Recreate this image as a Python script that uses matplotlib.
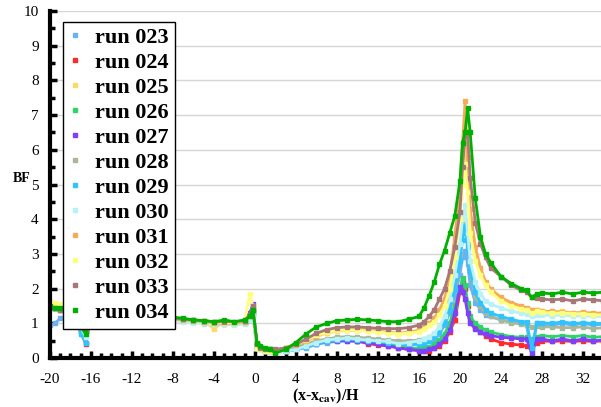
import matplotlib
matplotlib.use('Agg')
import matplotlib.pyplot as plt
from matplotlib.ticker import MultipleLocator
from matplotlib.lines import Line2D

plt.rcParams['font.family'] = ['Liberation Serif', 'DejaVu Serif']
plt.rcParams['mathtext.fontset'] = 'stix'
plt.rcParams['axes.unicode_minus'] = False

# shared x positions (x-x_cav)/H
x = [-20, -19.5, -19, -18.5, -18, -17.5, -17, -16.5, -16,
     -15, -14, -13, -12, -11, -10, -9, -8, -7, -6, -5, -4, -3, -2, -1,
     -0.5, -0.2, 0.2, 0.5, 1, 1.5, 2,
     3, 4, 5, 6, 7, 8, 9, 10, 11, 12, 13, 14, 15, 16,
     16.5, 17, 17.5, 18, 18.5, 19, 19.5, 20, 20.25, 20.5, 20.75, 21, 21.5, 22, 22.5, 23,
     24, 25, 26, 26.5, 27, 27.5, 28, 29, 30, 31, 32, 33, 34]

runs = ['run 023', 'run 024', 'run 025', 'run 026', 'run 027', 'run 028',
        'run 029', 'run 030', 'run 031', 'run 032', 'run 033', 'run 034']
colors = ['#6fb0f0', '#ff2a2a', '#ffd966', '#2ed468', '#7f3fff', '#a8b898',
          '#30c4ff', '#b8f2f8', '#f5ab5a', '#ffff80', '#a87878', '#00b000']

bf_023 = [0.95, 1.0, 1.15, 1.2, 1.25, 1.2, 0.75, 0.45, 1.2,
          1.25, 1.22, 1.2, 1.2, 1.18, 1.15, 1.15, 1.12, 1.1, 1.05, 1.02, 1.0, 1.0, 0.98, 1.0,
          1.1, 1.3, 0.35, 0.3, 0.25, 0.22, 0.2,
          0.2, 0.25, 0.3, 0.4, 0.45, 0.48, 0.5, 0.5, 0.48, 0.45, 0.42, 0.38, 0.38, 0.4,
          0.42, 0.48, 0.55, 0.7, 0.95, 1.3, 1.8, 2.4, 2.9, 3.1, 2.7, 2.1, 1.6, 1.4, 1.25, 1.2,
          1.1, 1.05, 1.0, 0.95, 0.1, 1.0, 0.95, 0.95, 1.0, 0.95, 1.0, 0.95, 0.98]
bf_024 = [1.45, 1.45, 1.4, 1.4, 1.35, 1.3, 0.8, 0.4, 1.25,
          1.25, 1.22, 1.2, 1.2, 1.18, 1.15, 1.12, 1.12, 1.1, 1.08, 1.05, 1.02, 1.0, 1.0, 1.05,
          1.2, 1.4, 0.4, 0.3, 0.25, 0.22, 0.2,
          0.22, 0.28, 0.38, 0.45, 0.52, 0.55, 0.55, 0.5, 0.42, 0.38, 0.35, 0.3, 0.25, 0.22,
          0.2, 0.22, 0.28, 0.35, 0.5, 0.75, 1.1, 1.9, 2.2, 2.0, 1.5, 1.1, 0.9, 0.75, 0.65, 0.55,
          0.45, 0.4, 0.38, 0.35, 0.25, 0.45, 0.5, 0.48, 0.5, 0.48, 0.5, 0.48, 0.5]
bf_025 = [1.6, 1.55, 1.5, 1.45, 1.4, 1.35, 1.0, 0.85, 1.3,
          1.28, 1.25, 1.25, 1.22, 1.2, 1.2, 1.18, 1.15, 1.12, 1.1, 1.08, 0.85, 1.05, 1.02, 1.08,
          1.2, 1.45, 0.3, 0.28, 0.22, 0.2, 0.2,
          0.28, 0.35, 0.48, 0.62, 0.72, 0.78, 0.8, 0.8, 0.78, 0.76, 0.72, 0.7, 0.72, 0.78,
          0.88, 0.95, 1.1, 1.3, 1.6, 2.2, 3.2, 4.6, 5.6, 6.2, 5.2, 4.0, 3.0, 2.5, 2.15, 1.95,
          1.7, 1.55, 1.45, 1.42, 1.4, 1.38, 1.35, 1.32, 1.35, 1.3, 1.3, 1.28, 1.3]
bf_026 = [1.5, 1.45, 1.45, 1.4, 1.38, 1.35, 0.95, 0.75, 1.3,
          1.25, 1.25, 1.22, 1.2, 1.2, 1.18, 1.15, 1.12, 1.12, 1.1, 1.05, 1.05, 1.02, 1.0, 1.05,
          1.15, 1.35, 0.35, 0.3, 0.25, 0.2, 0.18,
          0.22, 0.28, 0.38, 0.45, 0.5, 0.52, 0.52, 0.5, 0.48, 0.45, 0.4, 0.32, 0.3, 0.28,
          0.3, 0.32, 0.4, 0.52, 0.7, 1.0, 1.5, 2.0, 2.3, 2.1, 1.6, 1.2, 1.0, 0.9, 0.8, 0.75,
          0.68, 0.62, 0.6, 0.6, 0.55, 0.62, 0.65, 0.62, 0.65, 0.62, 0.65, 0.6, 0.62]
bf_027 = [1.55, 1.55, 1.5, 1.45, 1.4, 1.35, 0.85, 0.8, 1.3,
          1.28, 1.25, 1.22, 1.2, 1.2, 1.18, 1.15, 1.12, 1.1, 1.08, 1.05, 1.02, 1.0, 1.0, 1.1,
          1.3, 1.55, 0.4, 0.3, 0.22, 0.2, 0.18,
          0.2, 0.25, 0.35, 0.42, 0.48, 0.5, 0.5, 0.48, 0.45, 0.4, 0.35, 0.3, 0.25, 0.22,
          0.22, 0.25, 0.3, 0.4, 0.55, 0.8, 1.3, 2.05, 1.9, 1.7, 1.3, 1.0, 0.85, 0.75, 0.7, 0.65,
          0.6, 0.58, 0.55, 0.55, 0.15, 0.55, 0.55, 0.5, 0.55, 0.5, 0.55, 0.5, 0.52]
bf_028 = [1.5, 1.45, 1.42, 1.4, 1.35, 1.3, 1.0, 0.9, 1.28,
          1.25, 1.22, 1.2, 1.2, 1.18, 1.15, 1.12, 1.1, 1.08, 1.05, 1.02, 1.0, 0.98, 0.98, 1.02,
          1.1, 1.3, 0.3, 0.28, 0.25, 0.25, 0.22,
          0.25, 0.3, 0.4, 0.5, 0.55, 0.6, 0.62, 0.6, 0.58, 0.55, 0.52, 0.5, 0.5, 0.52,
          0.55, 0.6, 0.68, 0.85, 1.1, 1.5, 2.2, 3.0, 3.6, 3.9, 3.3, 2.5, 1.8, 1.5, 1.3, 1.2,
          1.1, 1.02, 0.98, 0.95, 0.9, 0.92, 0.9, 0.9, 0.88, 0.88, 0.9, 0.85, 0.88]
bf_029 = [1.5, 1.45, 1.4, 1.4, 1.35, 1.3, 0.7, 0.45, 1.25,
          1.22, 1.2, 1.2, 1.18, 1.15, 1.12, 1.1, 1.1, 1.08, 1.05, 1.02, 1.0, 0.98, 0.98, 1.0,
          1.1, 1.25, 0.3, 0.25, 0.2, 0.2, 0.18,
          0.2, 0.25, 0.32, 0.42, 0.48, 0.52, 0.55, 0.52, 0.5, 0.48, 0.45, 0.4, 0.4, 0.42,
          0.45, 0.5, 0.6, 0.75, 1.0, 1.4, 2.0, 2.8, 3.4, 3.8, 3.2, 2.5, 1.9, 1.6, 1.4, 1.3,
          1.2, 1.12, 1.05, 1.05, 0.3, 1.0, 1.02, 1.0, 1.05, 1.0, 1.02, 1.0, 1.0]
bf_030 = [1.45, 1.45, 1.4, 1.38, 1.35, 1.3, 0.9, 0.6, 1.25,
          1.22, 1.2, 1.2, 1.18, 1.15, 1.12, 1.1, 1.08, 1.05, 1.02, 1.0, 0.98, 0.98, 0.96, 1.0,
          1.1, 1.2, 0.28, 0.25, 0.2, 0.18, 0.15,
          0.2, 0.25, 0.35, 0.45, 0.52, 0.55, 0.58, 0.55, 0.52, 0.5, 0.48, 0.42, 0.45, 0.5,
          0.55, 0.62, 0.72, 0.9, 1.2, 1.7, 2.4, 3.3, 4.0, 4.4, 3.6, 2.8, 2.2, 1.85, 1.65, 1.55,
          1.45, 1.35, 1.3, 1.28, 1.2, 1.25, 1.25, 1.22, 1.25, 1.2, 1.22, 1.2, 1.2]
bf_031 = [1.55, 1.5, 1.45, 1.45, 1.4, 1.35, 1.1, 0.9, 1.3,
          1.28, 1.25, 1.22, 1.22, 1.2, 1.18, 1.15, 1.12, 1.1, 1.08, 1.05, 1.02, 1.0, 1.0, 1.05,
          1.2, 1.4, 0.35, 0.3, 0.25, 0.22, 0.22,
          0.3, 0.38, 0.5, 0.65, 0.75, 0.8, 0.82, 0.82, 0.8, 0.78, 0.75, 0.72, 0.75, 0.8,
          0.9, 1.0, 1.15, 1.4, 1.7, 2.4, 3.5, 5.0, 6.2, 7.4, 5.8, 4.3, 3.2, 2.6, 2.2, 2.0,
          1.75, 1.6, 1.5, 1.45, 1.4, 1.38, 1.35, 1.35, 1.32, 1.3, 1.32, 1.3, 1.3]
bf_032 = [1.65, 1.6, 1.55, 1.5, 1.45, 1.4, 1.05, 0.95, 1.35,
          1.3, 1.28, 1.25, 1.22, 1.2, 1.2, 1.18, 1.15, 1.12, 1.1, 1.08, 1.05, 1.02, 1.02, 1.1,
          1.85, 1.5, 0.3, 0.25, 0.22, 0.2, 0.2,
          0.3, 0.4, 0.52, 0.66, 0.74, 0.8, 0.82, 0.8, 0.78, 0.75, 0.72, 0.7, 0.72, 0.76,
          0.85, 0.95, 1.05, 1.25, 1.5, 2.0, 2.9, 4.0, 5.0, 5.6, 4.8, 3.6, 2.8, 2.4, 2.1, 1.9,
          1.65, 1.5, 1.42, 1.4, 1.3, 1.35, 1.32, 1.3, 1.3, 1.28, 1.28, 1.25, 1.25]
bf_033 = [1.45, 1.45, 1.4, 1.4, 1.35, 1.3, 1.0, 0.85, 1.3,
          1.28, 1.25, 1.25, 1.22, 1.2, 1.2, 1.18, 1.15, 1.12, 1.1, 1.08, 1.05, 1.05, 1.05, 1.08,
          1.25, 1.5, 0.4, 0.3, 0.25, 0.25, 0.25,
          0.3, 0.4, 0.55, 0.72, 0.82, 0.88, 0.9, 0.9, 0.88, 0.86, 0.85, 0.85, 0.88, 0.95,
          1.05, 1.2, 1.4, 1.7, 2.0, 2.5, 3.2, 4.2, 5.5, 6.4, 6.5, 5.2, 3.9, 3.3, 2.9, 2.6,
          2.35, 2.1, 1.95, 1.9, 1.75, 1.72, 1.7, 1.68, 1.7, 1.65, 1.7, 1.68, 1.65]
bf_034 = [1.5, 1.45, 1.45, 1.4, 1.35, 1.3, 0.9, 0.7, 1.3,
          1.3, 1.28, 1.25, 1.25, 1.22, 1.2, 1.2, 1.18, 1.15, 1.1, 1.08, 1.05, 1.1, 1.05, 1.1,
          1.2, 1.4, 0.45, 0.35, 0.3, 0.25, 0.15,
          0.25, 0.45, 0.7, 0.9, 1.0, 1.08, 1.1, 1.12, 1.1, 1.08, 1.05, 1.05, 1.12, 1.2,
          1.45, 1.8, 2.2, 2.7, 3.1, 3.6, 4.1, 5.1, 6.2, 6.5, 7.2, 6.5, 4.6, 3.5, 3.0, 2.75,
          2.35, 2.15, 2.0, 1.95, 1.75, 1.85, 1.88, 1.85, 1.9, 1.85, 1.9, 1.88, 1.9]

series = [bf_023, bf_024, bf_025, bf_026, bf_027, bf_028,
          bf_029, bf_030, bf_031, bf_032, bf_033, bf_034]

fig = plt.figure(figsize=(6.01, 4.07), dpi=100)
ax = fig.add_axes([0.083, 0.12, 0.917, 0.853])

for y, c, lab in zip(series, colors, runs):
    ax.plot(x, y, color=c, lw=2.0, marker='s', ms=2.2, mec=c, label=lab)

ax.set_xlim(-20, 33.76)
ax.set_ylim(0, 10)
ax.xaxis.set_major_locator(MultipleLocator(4))
ax.xaxis.set_minor_locator(MultipleLocator(1))
ax.yaxis.set_major_locator(MultipleLocator(1))
ax.yaxis.set_minor_locator(MultipleLocator(0.5))
ax.grid(True, axis='y', color='#d6d6d6', lw=1)
ax.set_axisbelow(True)

for s in ['top', 'right']:
    ax.spines[s].set_visible(False)
for s in ['left', 'bottom']:
    ax.spines[s].set_linewidth(3)
ax.tick_params(which='major', direction='in', length=5, width=2.5, labelsize=11)
ax.tick_params(axis='x', which='major', pad=11)
ax.tick_params(axis='y', which='major', pad=8)
ax.tick_params(which='minor', direction='in', length=3.5, width=2.5)

ax.set_ylabel('BF', rotation=0, fontsize=10, fontweight='bold')
ax.yaxis.set_label_coords(-0.052, 0.5)
ax.set_xlabel('(x-x$_{\\mathbf{cav}}$)/H', fontsize=11.5, fontweight='bold', labelpad=0)

handles = [Line2D([], [], ls='none', marker='s', ms=2.5, color=c) for c in colors]
leg = ax.legend(handles, runs, loc='upper left', bbox_to_anchor=(0.024, 0.968),
                prop={'size': 16, 'weight': 'bold'}, frameon=True, fancybox=False,
                framealpha=1, edgecolor='black', handlelength=0.6, handletextpad=0.6,
                labelspacing=0.2, borderpad=0.25, borderaxespad=0)
leg.get_frame().set_linewidth(1)

fig.savefig('out.png', dpi=100)
